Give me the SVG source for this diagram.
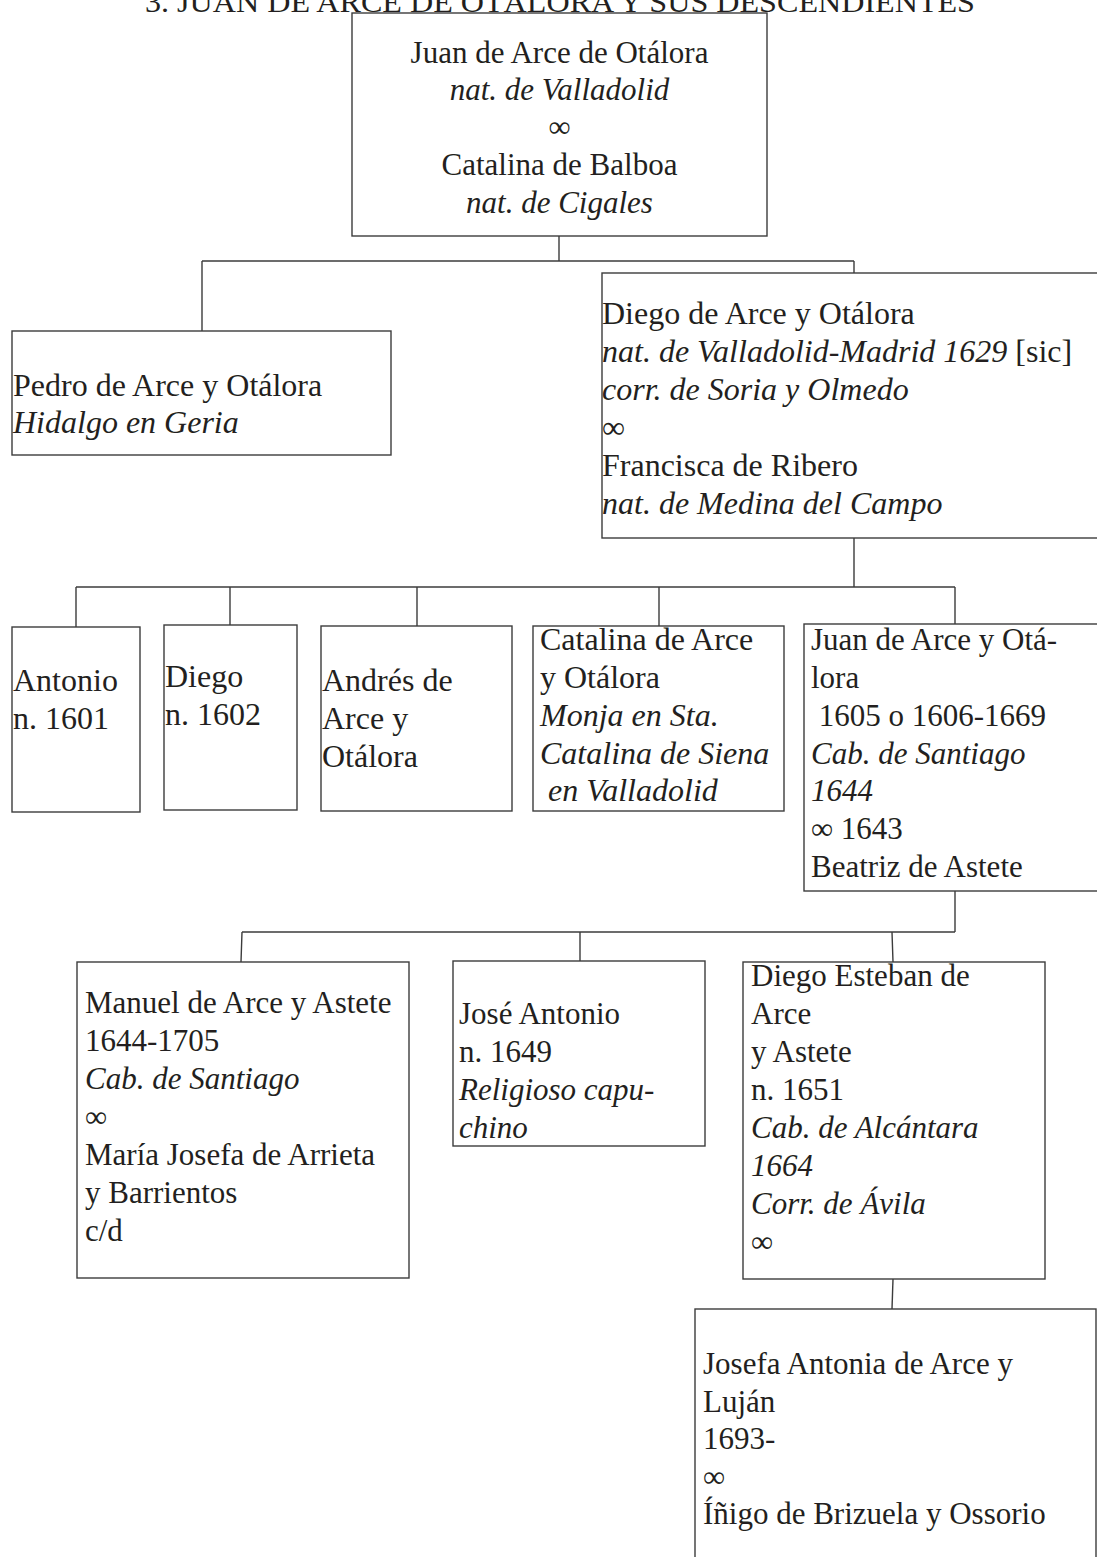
<svg xmlns="http://www.w3.org/2000/svg" width="1097" height="1557" viewBox="0 0 1097 1557">
  <style>
    .bg { fill: #ffffff; }
    .box { fill: #ffffff; stroke: #3c3c3c; stroke-width: 1.4; }
    .con { fill: none; stroke: #3c3c3c; stroke-width: 1.4; }
    .t { font-family: "Liberation Serif", "Times New Roman", serif; font-size: 31px; fill: #231f20; }
    .l { font-size: 32px; }
    .i { font-style: italic; }
    .c { text-anchor: middle; }
    .title { font-family: "Liberation Serif", "Times New Roman", serif; font-size: 30px; fill: #231f20; text-anchor: middle; }
  </style>
  <rect class="bg" x="0" y="0" width="1097" height="1557"/>

  <g id="title">
    <text class="title" x="560" y="12" textLength="830" lengthAdjust="spacingAndGlyphs">3. JUAN DE ARCE DE OTÁLORA Y SUS DESCENDIENTES</text>
  </g>

  <g id="connectors">
    <path class="con" d="M559,236 V261 M202,261 H854 M202,261 V331 M854,261 V273"/>
    <path class="con" d="M854,538 V587 M76,587 H955 M76,587 V627 M230,587 V625 M417,587 V626 M659,587 V626 M955,587 V624"/>
    <path class="con" d="M955,891 V932 M242,932 H955 M242,932 L241,962 M580,932 V961 M892,932 L893,962"/>
    <path class="con" d="M893,1279 L892,1309"/>
  </g>

  <g id="n-juan-catalina">
    <rect class="box" x="352" y="13" width="415" height="223"/>
    <text class="t c" x="559.5" y="63">Juan de Arce de Otálora</text>
    <text class="t c i" x="559.5" y="100">nat. de Valladolid</text>
    <text class="t c" x="559.5" y="137">∞</text>
    <text class="t c" x="559.5" y="175">Catalina de Balboa</text>
    <text class="t c i" x="559.5" y="213">nat. de Cigales</text>
  </g>

  <g id="n-pedro">
    <rect class="box" x="12" y="331" width="379" height="124"/>
    <text class="t l" x="13" y="396">Pedro de Arce y Otálora</text>
    <text class="t l i" x="13" y="433">Hidalgo en Geria</text>
  </g>

  <g id="n-diego">
    <rect class="box" x="602" y="273" width="497" height="265"/>
    <text class="t l" x="602" y="324">Diego de Arce y Otálora</text>
    <text class="t l" x="602" y="362"><tspan class="i">nat. de Valladolid-Madrid 1629</tspan> [sic]</text>
    <text class="t l i" x="602" y="400">corr. de Soria y Olmedo</text>
    <text class="t l" x="602" y="438">∞</text>
    <text class="t l" x="602" y="476">Francisca de Ribero</text>
    <text class="t l i" x="602" y="514">nat. de Medina del Campo</text>
  </g>

  <g id="n-antonio">
    <rect class="box" x="12" y="627" width="128" height="185"/>
    <text class="t l" x="13" y="691">Antonio</text>
    <text class="t l" x="13" y="729">n. 1601</text>
  </g>

  <g id="n-diego2">
    <rect class="box" x="164" y="625" width="133" height="185"/>
    <text class="t l" x="165" y="687">Diego</text>
    <text class="t l" x="165" y="725">n. 1602</text>
  </g>

  <g id="n-andres">
    <rect class="box" x="321" y="626" width="191" height="185"/>
    <text class="t l" x="322" y="691">Andrés de</text>
    <text class="t l" x="322" y="729">Arce y</text>
    <text class="t l" x="322" y="767">Otálora</text>
  </g>

  <g id="n-catalina">
    <rect class="box" x="533" y="626" width="251" height="185"/>
    <text class="t l" x="540" y="650">Catalina de Arce</text>
    <text class="t l" x="540" y="688">y Otálora</text>
    <text class="t l i" x="540" y="726">Monja en Sta.</text>
    <text class="t l i" x="540" y="764">Catalina de Siena</text>
    <text class="t l i" x="540" y="801" xml:space="preserve"> en Valladolid</text>
  </g>

  <g id="n-juan2">
    <rect class="box" x="804" y="624" width="295" height="267"/>
    <text class="t" x="811" y="650">Juan de Arce y Otá-</text>
    <text class="t" x="811" y="688">lora</text>
    <text class="t" x="811" y="726" xml:space="preserve"> 1605 o 1606-1669</text>
    <text class="t i" x="811" y="764">Cab. de Santiago</text>
    <text class="t i" x="811" y="801">1644</text>
    <text class="t" x="811" y="839">∞ 1643</text>
    <text class="t" x="811" y="877">Beatriz de Astete</text>
  </g>

  <g id="n-manuel">
    <rect class="box" x="77" y="962" width="332" height="316"/>
    <text class="t" x="85" y="1013">Manuel de Arce y Astete</text>
    <text class="t" x="85" y="1051">1644-1705</text>
    <text class="t i" x="85" y="1089">Cab. de Santiago</text>
    <text class="t" x="85" y="1127">∞</text>
    <text class="t" x="85" y="1165">María Josefa de Arrieta</text>
    <text class="t" x="85" y="1203">y Barrientos</text>
    <text class="t" x="85" y="1241">c/d</text>
  </g>

  <g id="n-jose">
    <rect class="box" x="453" y="961" width="252" height="185"/>
    <text class="t" x="459" y="1024">José Antonio</text>
    <text class="t" x="459" y="1062">n. 1649</text>
    <text class="t i" x="459" y="1100">Religioso capu-</text>
    <text class="t i" x="459" y="1138">chino</text>
  </g>

  <g id="n-diego-esteban">
    <rect class="box" x="743" y="962" width="302" height="317"/>
    <text class="t" x="751" y="986">Diego Esteban de</text>
    <text class="t" x="751" y="1024">Arce</text>
    <text class="t" x="751" y="1062">y Astete</text>
    <text class="t" x="751" y="1100">n. 1651</text>
    <text class="t i" x="751" y="1138">Cab. de Alcántara</text>
    <text class="t i" x="751" y="1176">1664</text>
    <text class="t i" x="751" y="1214">Corr. de Ávila</text>
    <text class="t" x="751" y="1252">∞</text>
  </g>

  <g id="n-josefa">
    <rect class="box" x="695" y="1309" width="401" height="300"/>
    <text class="t" x="703" y="1374">Josefa Antonia de Arce y</text>
    <text class="t" x="703" y="1412">Luján</text>
    <text class="t" x="703" y="1449">1693-</text>
    <text class="t" x="703" y="1487">∞</text>
    <text class="t" x="703" y="1524">Íñigo de Brizuela y Ossorio</text>
  </g>
</svg>
